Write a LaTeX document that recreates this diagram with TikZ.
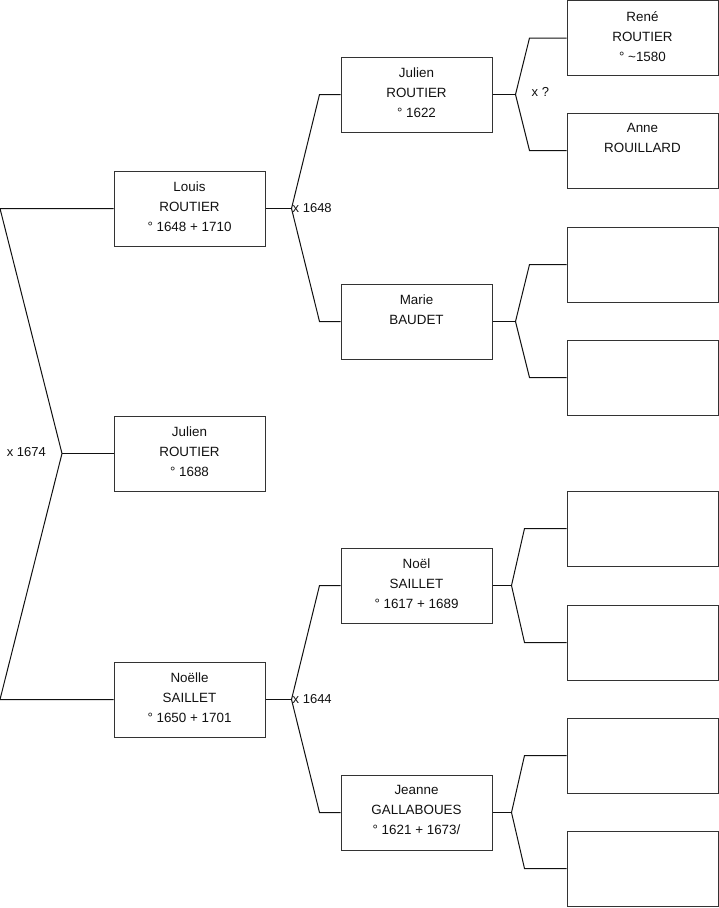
\documentclass[tikz,border=0pt]{standalone}
\usepackage{fontspec}
\setmainfont{Liberation Sans}
\usetikzlibrary{positioning,calc}
\definecolor{ink}{HTML}{111111}
\definecolor{frame}{HTML}{333333}

\begin{document}
\begin{tikzpicture}[x=1pt, y=-1pt,
    personbox/.style={draw=frame, line width=1pt, minimum width=151pt, minimum height=75pt, inner sep=0pt},
    persontext/.style={anchor=north, align=center, inner sep=0pt, text=ink, font=\fontsize{13.4}{20}\selectfont},
    link/.style={draw=ink, line width=1pt},
    wedding/.style={inner sep=1pt, text=ink, font=\fontsize{13}{15}\selectfont}]
  \useasboundingbox (0,0) rectangle (719,908);
  % person boxes
  \foreach \n/\cx/\cy/\txt in {
      louis/189.5/208.5/{Louis\\ROUTIER\\° 1648 + 1710},
      julien/189.5/453.5/{Julien\\ROUTIER\\° 1688},
      noelle/189.5/699.5/{Noëlle\\SAILLET\\° 1650 + 1701},
      jroutier/416.5/94.5/{Julien\\ROUTIER\\° 1622},
      marie/416.5/321.5/{Marie\\BAUDET},
      noel/416.5/585.5/{Noël\\SAILLET\\° 1617 + 1689},
      jeanne/416.5/812.5/{Jeanne\\GALLABOUES\\° 1621 + 1673/},
      rene/642.5/38/{René\\ROUTIER\\° \textasciitilde1580},
      anne/642.5/150.5/{Anne\\ROUILLARD},
      mb1/642.5/264.5/{}, mb2/642.5/377.5/{},
      ns1/642.5/528.5/{}, ns2/642.5/642.5/{},
      jg1/642.5/755.5/{}, jg2/642.5/868.5/{}}{
    \node[personbox] (\n) at (\cx,\cy) {};
    \node[persontext] (\n-txt) at ([yshift=-11pt]\n.north) {\txt};
  }
  % first couple
  \coordinate (lt) at (0,208.5);
  \coordinate (lb) at (0,699.5);
  \coordinate (m0) at (62,453.5);
  \draw[link] (louis.west) -- (lt) -- (m0) -- (lb) -- (noelle.west);
  \draw[link] (m0) -- (julien.west);
  \node[wedding, anchor=east] (w0) at ([xshift=-15pt, yshift=1.5pt]m0) {x 1674};
  % forks to the parents
  \foreach \p/\dx/\dk/\u/\d in {
      louis/26/28/jroutier/marie, noelle/26/28/noel/jeanne,
      jroutier/23/14/rene/anne, marie/23/14/mb1/mb2,
      noel/19/13/ns1/ns2, jeanne/19/13/jg1/jg2}{
    \path (\p.east) ++(\dx,0) coordinate (\p-f) ++(\dk,0) coordinate (\p-k);
    \draw[link] (\p.east) -- (\p-f);
    \draw[link] (\p-f) -- (\p-k |- \u.west) -- (\u.west);
    \draw[link] (\p-f) -- (\p-k |- \d.west) -- (\d.west);
  }
  \node[wedding, anchor=west] (w1) at (louis-f) {x 1648};
  \node[wedding, anchor=west] (w2) at (noelle-f) {x 1644};
  \node[wedding, anchor=west] (w3) at ([xshift=15pt, yshift=2.5pt]jroutier-f) {x ?};
\end{tikzpicture}
\end{document}
